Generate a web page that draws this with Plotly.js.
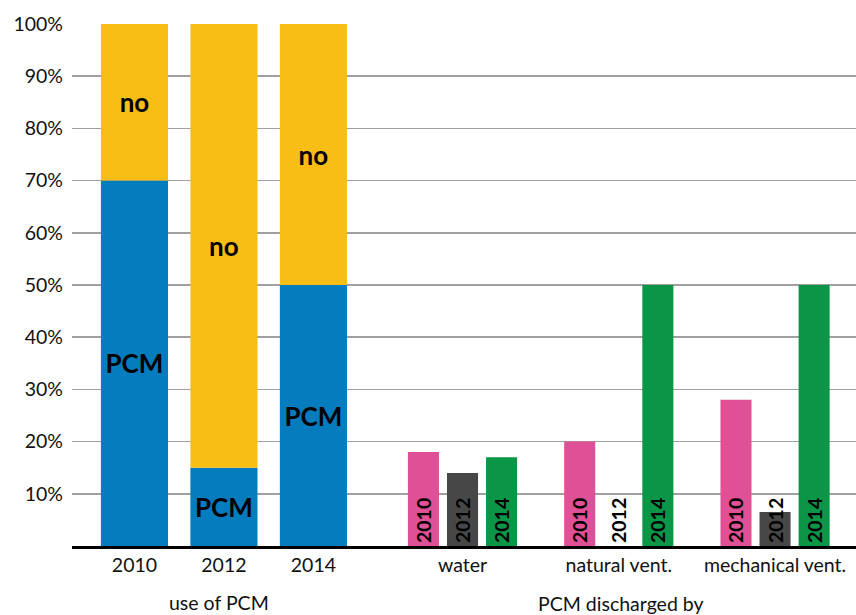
<!DOCTYPE html>
<html><head><meta charset="utf-8">
<script src="https://cdn.plot.ly/plotly-3.0.1.min.js"></script>
<style>html,body{margin:0;padding:0;background:#fff}#chart{width:856px;height:615px}</style>
</head><body><div id="chart"></div>
<script>
// ---- data ----
const useYears = ['2010', '2012', '2014'];
const pcmShare = [70, 15, 50];
const noShare = [30, 85, 50];
const dischargeCats = ['water', 'natural vent.', 'mechanical vent.'];
const discharge2010 = [18, 20, 28];
const discharge2012 = [14, 0, 6.5];
const discharge2014 = [17, 50, 50];
const seriesYears = ['2010', '2012', '2014'];
const yTickVals = [10, 20, 30, 40, 50, 60, 70, 80, 90, 100];
const yTickText = yTickVals.map(v => v + '%');
const leftTitle = 'use of PCM';
const rightTitle = 'PCM discharged by';

// ---- styles ----
const FONT = 'Lato, "Open Sans", sans-serif';
const colors = { pcm: '#047CBE', no: '#F9BE16', y2010: '#E05096', y2012: '#474747', y2014: '#0B9647' };
const barLabelFont = { family: FONT, size: 26, color: '#000', weight: 'bold' };
const yearLabelFont = { family: FONT, size: 19.5, color: '#000', weight: 'bold' };
const tickFont = { family: FONT, size: 19.5, color: '#111' };

const traces = [
  {
    type: 'bar', name: 'PCM', x: useYears, y: pcmShare, xaxis: 'x', yaxis: 'y',
    offsetgroup: 'use', width: 0.75, marker: { color: colors.pcm },
    text: useYears.map(() => 'PCM'), textposition: 'inside', insidetextanchor: 'middle',
    textfont: barLabelFont, insidetextfont: barLabelFont, constraintext: 'none', hoverinfo: 'skip'
  },
  {
    type: 'bar', name: 'no', x: useYears, y: noShare, base: pcmShare, xaxis: 'x', yaxis: 'y',
    offsetgroup: 'use', width: 0.75, marker: { color: colors.no },
    text: useYears.map(() => 'no'), textposition: 'inside', insidetextanchor: 'middle',
    textfont: barLabelFont, insidetextfont: barLabelFont, constraintext: 'none', hoverinfo: 'skip'
  }
];

const seriesVals = [discharge2010, discharge2012, discharge2014];
const seriesColors = [colors.y2010, colors.y2012, colors.y2014];
seriesYears.forEach((yr, i) => {
  traces.push({
    type: 'bar', name: yr, x: dischargeCats, y: seriesVals[i], xaxis: 'x2', yaxis: 'y',
    offsetgroup: 'g' + yr, marker: { color: seriesColors[i] },
    text: dischargeCats.map(() => yr), textangle: -90,
    textposition: seriesVals[i].map(v => v > 0 ? 'inside' : 'outside'),
    insidetextanchor: 'start', constraintext: 'none', cliponaxis: false,
    textfont: yearLabelFont, insidetextfont: yearLabelFont, outsidetextfont: yearLabelFont,
    hoverinfo: 'skip'
  });
});

const W = 856, H = 615, L = 72, R = 0, T = 24, B = 69;
const split = (385 - L) / (W - L - R);
const px = x => (x - L) / (W - L - R);
const py = y => (H - B - y) / (H - T - B);

const layout = {
  width: W, height: H,
  margin: { l: L, r: R, t: T, b: B, pad: 0 },
  paper_bgcolor: '#fff', plot_bgcolor: '#fff',
  showlegend: false,
  barmode: 'group', bargap: 0.25, bargroupgap: 0.205,
  font: { family: FONT, color: '#111' },
  xaxis: {
    type: 'category', domain: [0, split], range: [-0.698, 2.80], anchor: 'y',
    showgrid: false, zeroline: false, showline: true, linecolor: '#000', linewidth: 2.5,
    ticks: '', tickfont: tickFont, fixedrange: true
  },
  xaxis2: {
    type: 'category', domain: [split, 1], range: [-0.496, 2.518], anchor: 'y',
    showgrid: false, zeroline: false, showline: true, linecolor: '#000', linewidth: 2.5,
    ticks: '', tickfont: tickFont, fixedrange: true
  },
  yaxis: {
    range: [0, 100], tickmode: 'array', tickvals: yTickVals, ticktext: yTickText,
    showgrid: true, gridcolor: '#A0A0A0', gridwidth: 1.6, zeroline: false, showline: false,
    ticks: '', ticklabelstandoff: 8, tickfont: tickFont, fixedrange: true
  },
  annotations: [
    { text: leftTitle, xref: 'paper', yref: 'paper', x: px(219), y: py(602), xanchor: 'center', yanchor: 'middle', showarrow: false, font: tickFont },
    { text: rightTitle, xref: 'paper', yref: 'paper', x: px(621), y: py(603), xanchor: 'center', yanchor: 'middle', showarrow: false, font: tickFont }
  ]
};

Plotly.newPlot('chart', traces, layout, { displayModeBar: false, staticPlot: true });
</script>
</body></html>
